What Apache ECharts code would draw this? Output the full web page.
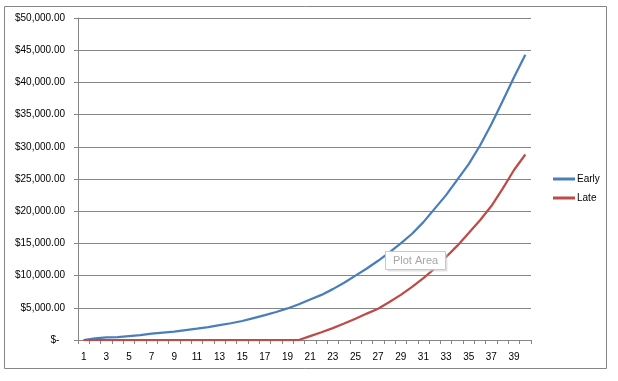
<!DOCTYPE html>
<html>
<head>
<meta charset="utf-8">
<script src="https://cdn.jsdelivr.net/npm/echarts@6/dist/echarts.min.js"></script>
<style>
html,body{margin:0;padding:0;background:#fff;}
#chart{width:618px;height:381px;}
</style>
</head>
<body>
<div id="chart"></div>
<script>
var categories = [];
for (var k = 1; k <= 40; k++) categories.push(String(k));

var seriesNames = ['Early', 'Late'];

var earlyValues = [
  0, 250, 400, 450, 600, 750, 1000, 1150, 1300, 1550,
  1750, 2000, 2300, 2600, 2950, 3400, 3850, 4350, 4900, 5550,
  6300, 7000, 7900, 8900, 10000, 11100, 12300, 13600, 15000, 16500,
  18300, 20400, 22500, 24900, 27300, 30200, 33500, 37100, 40800, 44300
];

var lateValues = [
  0, 0, 0, 0, 0, 0, 0, 0, 0, 0,
  0, 0, 0, 0, 0, 0, 0, 0, 0, 0,
  600, 1200, 1850, 2550, 3300, 4100, 4850, 5900, 7000, 8250,
  9600, 11100, 12900, 14650, 16600, 18600, 20800, 23500, 26400, 28800
];

var chart = echarts.init(document.getElementById('chart'), null, {renderer: 'canvas'});
var fontFamily = 'Liberation Sans, Arial, sans-serif';

chart.setOption({
  backgroundColor: '#ffffff',
  animation: false,
  grid: {left: 78, right: 87, top: 18, bottom: 41, containLabel: false},
  legend: {
    orient: 'vertical',
    left: 548,
    top: 168,
    icon: 'rect',
    itemWidth: 22,
    itemHeight: 3,
    itemGap: 7,
    textStyle: {fontFamily: fontFamily, fontSize: 10, color: '#000', padding: [0, 0, 0, -3], lineHeight: 12},
    data: seriesNames
  },
  xAxis: {
    type: 'category',
    data: categories,
    boundaryGap: true,
    axisLine: {lineStyle: {color: '#868686', width: 1}},
    axisTick: {show: true, interval: 0, length: 4, lineStyle: {color: '#868686'}},
    axisLabel: {interval: 1, margin: 12, fontFamily: fontFamily, fontSize: 10, color: '#000'},
    splitLine: {show: false}
  },
  yAxis: {
    type: 'value',
    min: 0,
    max: 50000,
    interval: 5000,
    axisLine: {show: true, lineStyle: {color: '#868686', width: 1}},
    axisTick: {show: true, length: 4, lineStyle: {color: '#868686'}},
    axisLabel: {
      margin: 13,
      fontFamily: fontFamily,
      fontSize: 10,
      color: '#000',
      formatter: function (v) {
        if (v === 0) return '$-  ';
        return '$' + v.toLocaleString('en-US', {minimumFractionDigits: 2, maximumFractionDigits: 2});
      }
    },
    splitLine: {show: true, lineStyle: {color: '#868686', width: 1}}
  },
  series: [
    {
      name: seriesNames[0],
      type: 'line',
      data: earlyValues,
      showSymbol: false,
      symbol: 'none',
      lineStyle: {color: '#4A7EBB', width: 2.25},
      itemStyle: {color: '#4A7EBB'},
      z: 3
    },
    {
      name: seriesNames[1],
      type: 'line',
      data: lateValues,
      showSymbol: false,
      symbol: 'none',
      lineStyle: {color: '#BE4B48', width: 2.25},
      itemStyle: {color: '#BE4B48'},
      z: 4
    }
  ],
  graphic: [
    {
      type: 'rect',
      shape: {x: 4.5, y: 6.5, width: 602, height: 362},
      style: {fill: 'none', stroke: '#868686', lineWidth: 1},
      silent: true
    },
    {
      type: 'rect',
      shape: {x: 387.5, y: 253.5, width: 60, height: 18},
      style: {fill: 'rgba(200,200,200,0.5)', stroke: 'none'},
      silent: true,
      z: 10
    },
    {
      type: 'rect',
      shape: {x: 385.5, y: 251.5, width: 60, height: 18},
      style: {fill: '#ffffff', stroke: '#c8c8c8', lineWidth: 1},
      silent: true,
      z: 11
    },
    {
      type: 'text',
      x: 415.5,
      y: 261,
      style: {text: 'Plot Area', fill: '#a6a6a6', font: '11px ' + fontFamily, align: 'center', verticalAlign: 'middle'},
      silent: true,
      z: 12
    }
  ]
});
</script>
</body>
</html>
